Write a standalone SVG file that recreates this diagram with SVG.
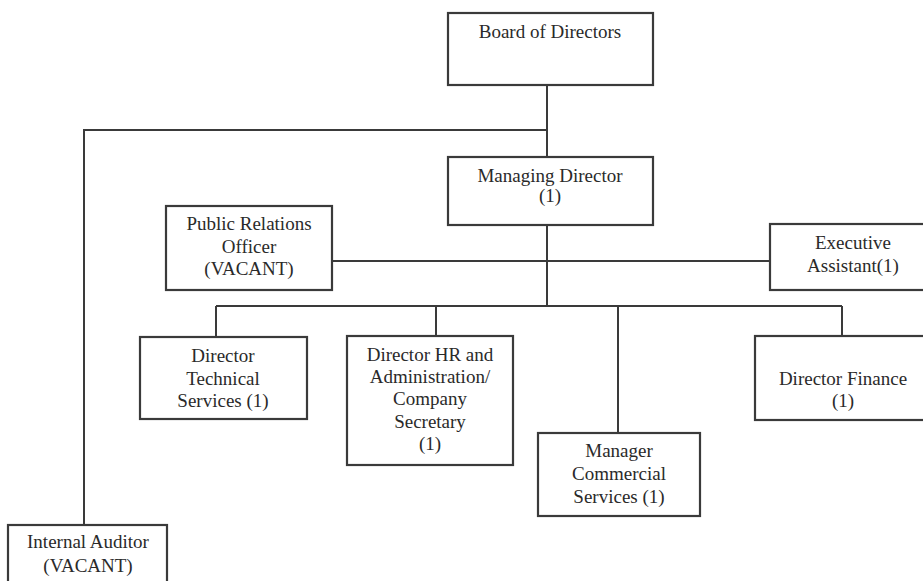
<svg xmlns="http://www.w3.org/2000/svg" width="923" height="581" viewBox="0 0 923 581">
  <style>
    .box { fill: #ffffff; stroke: #3a3a3a; stroke-width: 2.2; }
    .wire { fill: none; stroke: #3a3a3a; stroke-width: 2; }
    text { font-family: "Liberation Serif", "Times New Roman", serif; font-size: 19px; fill: #2a2a2a; text-anchor: middle; }
  </style>
  <rect width="923" height="581" fill="#ffffff"/>

  <!-- reporting lines -->
  <g id="connectors">
    <path class="wire" d="M547 85 V157"/>
    <path class="wire" d="M547 130 H84 V525"/>
    <path class="wire" d="M547 225 V306"/>
    <path class="wire" d="M332 261 H770"/>
    <path class="wire" d="M216 306 H842"/>
    <path class="wire" d="M216 306 V337"/>
    <path class="wire" d="M436 306 V336"/>
    <path class="wire" d="M618 306 V433"/>
    <path class="wire" d="M842 306 V336"/>
  </g>

  <g id="board">
    <rect class="box" x="448" y="13" width="205" height="72"/>
    <text x="550" y="38">Board of Directors</text>
  </g>

  <g id="managing-director">
    <rect class="box" x="448" y="157" width="205" height="68"/>
    <text x="550" y="182">Managing Director</text>
    <text x="550" y="202">(1)</text>
  </g>

  <g id="public-relations">
    <rect class="box" x="166" y="206" width="166" height="84"/>
    <text x="249" y="230">Public Relations</text>
    <text x="249" y="253">Officer</text>
    <text x="249" y="275">(VACANT)</text>
  </g>

  <g id="executive-assistant">
    <rect class="box" x="770" y="224" width="166" height="66"/>
    <text x="853" y="249">Executive</text>
    <text x="853" y="272">Assistant(1)</text>
  </g>

  <g id="director-technical">
    <rect class="box" x="140" y="337" width="167" height="82"/>
    <text x="223" y="362">Director</text>
    <text x="223" y="385">Technical</text>
    <text x="223" y="407">Services (1)</text>
  </g>

  <g id="director-hr">
    <rect class="box" x="347" y="336" width="166" height="129"/>
    <text x="430" y="361">Director HR and</text>
    <text x="430" y="383">Administration/</text>
    <text x="430" y="405">Company</text>
    <text x="430" y="428">Secretary</text>
    <text x="430" y="450">(1)</text>
  </g>

  <g id="manager-commercial">
    <rect class="box" x="538" y="433" width="162" height="83"/>
    <text x="619" y="457">Manager</text>
    <text x="619" y="480">Commercial</text>
    <text x="619" y="503">Services (1)</text>
  </g>

  <g id="director-finance">
    <rect class="box" x="755" y="336" width="176" height="84"/>
    <text x="843" y="385">Director Finance</text>
    <text x="843" y="407">(1)</text>
  </g>

  <g id="internal-auditor">
    <rect class="box" x="8" y="525" width="159" height="70"/>
    <text x="88" y="548">Internal Auditor</text>
    <text x="88" y="572">(VACANT)</text>
  </g>
</svg>
